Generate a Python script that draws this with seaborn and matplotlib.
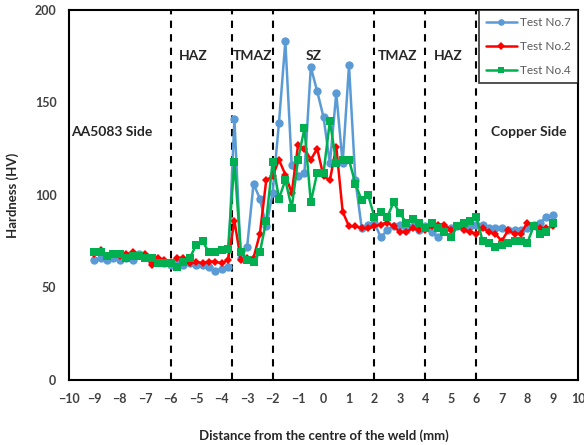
import pandas as pd
import matplotlib.pyplot as plt
import seaborn as sns

# Distance from the centre of the weld (mm), 0.25 mm steps
distance = [-9.0, -8.75, -8.5, -8.25, -8.0, -7.75, -7.5, -7.25, -7.0, -6.75,
            -6.5, -6.25, -6.0, -5.75, -5.5, -5.25, -5.0, -4.75, -4.5, -4.25,
            -4.0, -3.75, -3.5, -3.25, -3.0, -2.75, -2.5, -2.25, -2.0, -1.75,
            -1.5, -1.25, -1.0, -0.75, -0.5, -0.25, 0.0, 0.25, 0.5, 0.75,
            1.0, 1.25, 1.5, 1.75, 2.0, 2.25, 2.5, 2.75, 3.0, 3.25,
            3.5, 3.75, 4.0, 4.25, 4.5, 4.75, 5.0, 5.25, 5.5, 5.75,
            6.0, 6.25, 6.5, 6.75, 7.0, 7.25, 7.5, 7.75, 8.0, 8.25,
            8.5, 8.75, 9.0]

test7 = [65, 66, 65, 66, 65, 66, 65, 68, 67, 64,
         64, 63, 62, 63, 62, 63, 62, 62, 61, 59,
         60, 61, 141, 66, 72, 106, 98, 83, 101, 139,
         183, 116, 110, 112, 169, 156, 142, 117, 155, 117,
         170, 108, 82, 84, 85, 77, 81, 83, 84, 81,
         83, 81, 83, 80, 77, 81, 82, 83, 82, 83,
         84, 84, 82, 82, 82, 81, 81, 81, 82, 84,
         85, 88, 89]

test2 = [68, 70, 67, 68, 67, 68, 69, 67, 68, 62,
         66, 65, 64, 66, 66, 63, 64, 63, 64, 64,
         63, 65, 86, 65, 66, 66, 79, 108, 110, 119,
         111, 101, 127, 125, 119, 125, 110, 108, 126, 91,
         83, 83, 82, 82, 83, 84, 85, 83, 80, 80,
         82, 81, 81, 83, 84, 84, 81, 83, 81, 80,
         79, 82, 80, 79, 75, 81, 79, 79, 85, 83,
         82, 82, 83]

test4 = [69, 69, 67, 68, 68, 66, 67, 67, 66, 66,
         63, 63, 63, 61, 64, 66, 73, 75, 69, 69,
         70, 71, 118, 69, 65, 64, 69, 86, 118, 98,
         108, 93, 119, 136, 96, 112, 112, 140, 117, 119,
         119, 106, 97, 100, 88, 91, 88, 96, 90, 85,
         87, 85, 82, 85, 82, 80, 77, 83, 85, 86,
         88, 75, 74, 72, 73, 74, 75, 75, 74, 83,
         79, 80, 85]

zone_bounds = [-6, -3.6, -2, 2, 4, 6]
zone_labels = ["HAZ", "TMAZ", "SZ", "TMAZ", "HAZ"]
zone_label_x = [-5.1, -2.8, -0.4, 2.9, 4.9]

sns.set_style("white")
plt.rcParams['font.family'] = ['Lato', 'DejaVu Sans']

fig = plt.figure(figsize=(5.84, 4.45), dpi=100)
ax = fig.add_axes([0.118, 0.146, 0.872, 0.832])

df = pd.DataFrame({"x": distance, "t7": test7, "t2": test2, "t4": test4})

sns.lineplot(data=df, x="x", y="t7", ax=ax, color="#5B9BD5", marker="o",
             markersize=6, markeredgewidth=0, linewidth=1.8, label="Test No.7")
sns.lineplot(data=df, x="x", y="t2", ax=ax, color="#FF0000", marker="D",
             markersize=4.5, markeredgewidth=0, linewidth=1.8, label="Test No.2")
sns.lineplot(data=df, x="x", y="t4", ax=ax, color="#00B050", marker="s",
             markersize=6, markeredgewidth=0, linewidth=1.8, label="Test No.4")

# zone boundaries
for b in zone_bounds:
    ax.axvline(b, color="black", linestyle=(0, (3.5, 3)), linewidth=1.5, zorder=1)

for lab, xp in zip(zone_labels, zone_label_x):
    ax.text(xp, 175, lab, ha="center", va="center", fontsize=10, fontweight="bold")
ax.text(-8.3, 134, "AA5083 Side", ha="center", va="center", fontsize=10, fontweight="bold")
ax.text(8.05, 134, "Copper Side", ha="center", va="center", fontsize=10, fontweight="bold")

ax.set_xlim(-10, 10)
ax.set_ylim(0, 200)
ax.set_xticks(range(-10, 11))
ax.set_yticks([0, 50, 100, 150, 200])
ax.tick_params(length=0, labelsize=9, labelcolor="#404040", pad=9)
for t in ax.get_xticklabels() + ax.get_yticklabels():
    t.set_fontweight("bold")

ax.set_xlabel("Distance from the centre of the weld (mm)", fontsize=9.5,
              fontweight="bold", labelpad=18)
ax.set_ylabel("Hardness (HV)", fontsize=9.5, fontweight="bold", labelpad=11)

for s in ax.spines.values():
    s.set_color("black")
    s.set_linewidth(1.5)

leg = ax.legend(loc="upper right", bbox_to_anchor=(1.0, 1.0), borderaxespad=0,
                fontsize=8.5, frameon=True, fancybox=False, edgecolor="black",
                labelspacing=1.1, handlelength=2.6, handletextpad=0.3,
                markerscale=0.8, borderpad=0.6)
leg.get_frame().set_linewidth(1.2)
for t in leg.get_texts():
    t.set_color("#595959")

fig.savefig("out.png", dpi=100)
